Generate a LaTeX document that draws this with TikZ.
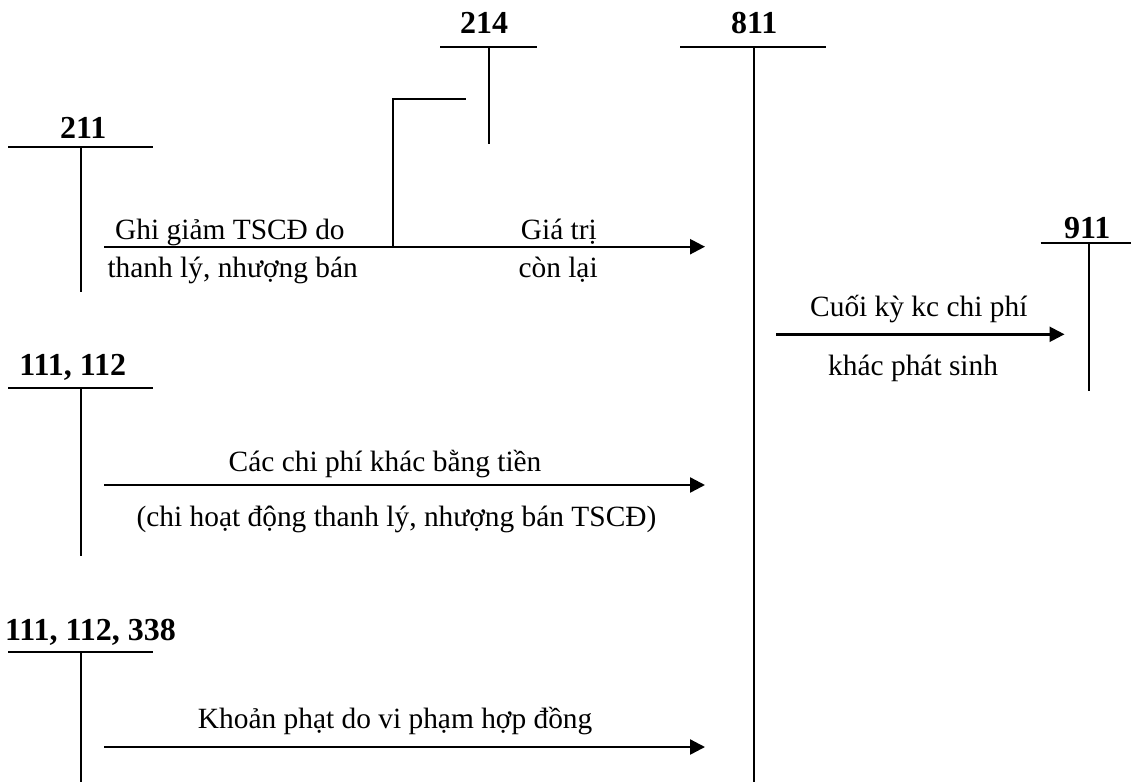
\documentclass[tikz,border=0pt]{standalone}
\usepackage{fontspec}
\setmainfont{Liberation Serif}
\usetikzlibrary{arrows.meta}
\begin{document}
\begin{tikzpicture}[x=1pt,y=-1pt,
  tline/.style={line width=2pt},
  flow/.style={line width=2.4pt,-{Triangle[length=15pt,width=15pt]}},
  acct/.style={anchor=base west,inner sep=0pt,font=\fontsize{32}{37}\selectfont\bfseries},
  note/.style={anchor=base west,inner sep=0pt,font=\fontsize{29.4}{34}\selectfont}]
\useasboundingbox (0,0) rectangle (1131,782);

% ---- T-accounts: title, top bar, stem ----
% 211
\node[acct] (t211) at (60,138.3) {211};
\coordinate (b211l) at (8,147.3);   \coordinate (b211r) at (153.3,147.3);
\coordinate (s211t) at (80.7,147.3); \coordinate (s211b) at (80.7,291.7);
\draw[tline] (b211l) -- (b211r);
\draw[tline] (s211t) -- (s211b);

% 214
\node[acct] (t214) at (460,33.3) {214};
\coordinate (b214l) at (440,47.3);  \coordinate (b214r) at (537.3,47.3);
\coordinate (s214t) at (489,47.3);  \coordinate (s214b) at (489,144);
\draw[tline] (b214l) -- (b214r);
\draw[tline] (s214t) -- (s214b);

% 811
\node[acct] (t811) at (731,33.3) {811};
\coordinate (b811l) at (680,47.3);  \coordinate (b811r) at (826,47.3);
\coordinate (s811t) at (753.5,47.3); \coordinate (s811b) at (753.5,782);
\draw[tline] (b811l) -- (b811r);
\draw[tline] (s811t) -- (s811b);

% 911
\node[acct] (t911) at (1064,238.3) {911};
\coordinate (b911l) at (1040.7,242.7); \coordinate (b911r) at (1131,242.7);
\coordinate (s911t) at (1089.3,242.7); \coordinate (s911b) at (1089.3,390.7);
\draw[tline] (b911l) -- (b911r);
\draw[tline] (s911t) -- (s911b);

% 111, 112
\node[acct] (t111) at (19.3,375) {111, 112};
\coordinate (b111l) at (8,387.5);   \coordinate (b111r) at (153,387.5);
\coordinate (s111t) at (80.7,387.5); \coordinate (s111b) at (80.7,556);
\draw[tline] (b111l) -- (b111r);
\draw[tline] (s111t) -- (s111b);

% 111, 112, 338
\node[acct] (t338) at (5,640) {111, 112, 338};
\coordinate (b338l) at (8,651.7);   \coordinate (b338r) at (153,651.7);
\coordinate (s338t) at (80.7,651.7); \coordinate (s338b) at (80.7,782);
\draw[tline] (b338l) -- (b338r);
\draw[tline] (s338t) -- (s338b);

% ---- Flows ----
% write-off of fixed asset: 211 -> 811, accumulated depreciation to 214
\coordinate (f1s) at (104,246.7);  \coordinate (f1e) at (705,246.7);
\coordinate (f1j) at (393.3,246.7); \coordinate (f1k) at (393.3,99);
\coordinate (f1d) at (465.5,99);
\draw[flow] (f1s) -- (f1e);
\draw[tline] (f1j) -- (f1k) -- (f1d);
\node[note] (n1a) at (115,239) {Ghi giảm TSCĐ do};
\node[note] (n1b) at (107.3,277) {thanh lý, nhượng bán};
\node[note] (n1c) at (520.7,239) {Giá trị};
\node[note] (n1d) at (518.3,277) {còn lại};

% period-end transfer: 811 -> 911
\coordinate (f2s) at (776,334.3);  \coordinate (f2e) at (1064.5,334.3);
\draw[flow] (f2s) -- (f2e);
\node[note] (n2a) at (810,316.7) {Cuối kỳ kc chi phí};
\node[note] (n2b) at (828,375) {khác phát sinh};

% cash expenses: 111, 112 -> 811
\coordinate (f3s) at (104,485);    \coordinate (f3e) at (705,485);
\draw[flow] (f3s) -- (f3e);
\node[note] (n3a) at (228.5,471.7) {Các chi phí khác bằng tiền};
\node[note] (n3b) at (136.4,526.7) {(chi hoạt động thanh lý, nhượng bán TSCĐ)};

% contract penalties: 111, 112, 338 -> 811
\coordinate (f4s) at (104,747);    \coordinate (f4e) at (705,747);
\draw[flow] (f4s) -- (f4e);
\node[note] (n4a) at (197.7,728.3) {Khoản phạt do vi phạm hợp đồng};
\end{tikzpicture}
\end{document}
